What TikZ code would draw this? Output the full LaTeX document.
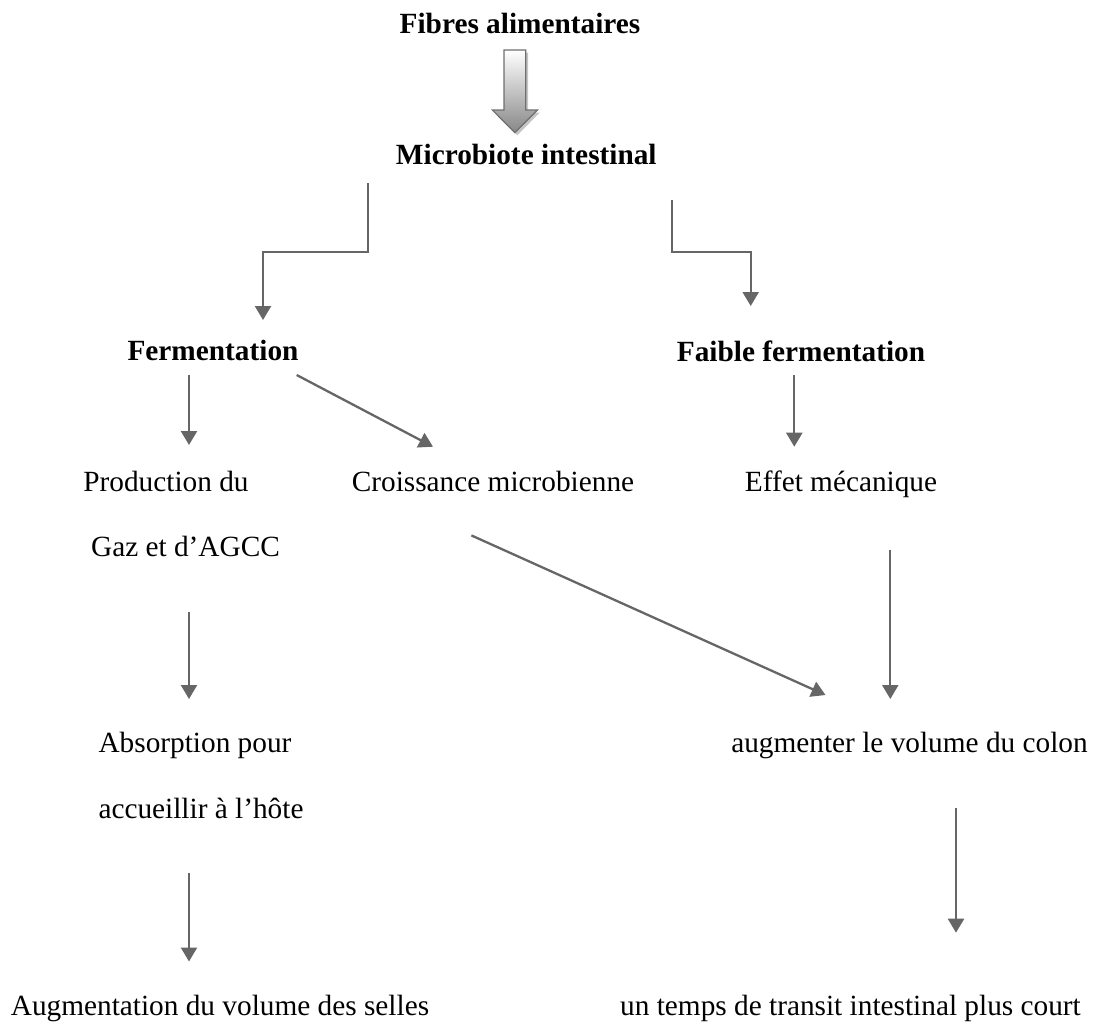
\documentclass[tikz,border=0pt]{standalone}
\usepackage{fontspec}
\setmainfont{Liberation Serif}
\usetikzlibrary{arrows.meta}
\definecolor{arrgray}{RGB}{102,102,102}
\definecolor{blockline}{RGB}{110,110,110}
\definecolor{blockbot}{RGB}{135,135,135}
\begin{document}
\begin{tikzpicture}[x=1pt,y=-1pt,
  lbl/.style={anchor=base, inner sep=0pt, font=\fontsize{29.3pt}{35pt}\selectfont},
  blbl/.style={anchor=base, inner sep=0pt, font=\fontsize{29.3pt}{35pt}\selectfont\bfseries},
  conn/.style={draw=arrgray, line width=2.3pt, -{Triangle[length=14pt,width=16pt]}}]
\useasboundingbox (0,0) rectangle (1093,1021);

% texts
\node[blbl] (fibres) at (520,33.3) {Fibres alimentaires};
\node[blbl] (micro) at (526.3,164.3) {Microbiote intestinal};
\node[blbl] (ferm) at (213,360.7) {Fermentation};
\node[blbl] (faible) at (801,361.7) {Faible fermentation};
\node[lbl] (prod) at (166,491.2) {Production du};
\node[lbl] (gaz) at (185.5,556.6) {Gaz et d’AGCC};
\node[lbl] (crois) at (493,491) {Croissance microbienne};
\node[lbl] (effet) at (841,491) {Effet mécanique};
\node[lbl] (abs) at (195,752.9) {Absorption pour};
\node[lbl] (acc) at (201,818.7) {accueillir à l’hôte};
\node[lbl] (augcol) at (909.5,752.8) {augmenter le volume du colon};
\node[lbl] (augsel) at (220,1015.3) {Augmentation du volume des selles};
\node[lbl] (temps) at (850.5,1015.5) {un temps de transit intestinal plus court};

% block arrow between fibres and micro
\fill[gray!45] (506.5,52.5) -- (528.2,52.5) -- (528.2,112.5) -- (539.9,112.5) -- (517.4,135.2) -- (494.9,112.5) -- (506.5,112.5) -- cycle;
\shade[top color=white, bottom color=blockbot, draw=blockline, line width=1.2pt]
  (504,50) -- (525.7,50) -- (525.7,110) -- (537.4,110) -- (514.9,132.7) -- (492.4,110) -- (504,110) -- cycle;

% connector end points
\coordinate (a1s) at (368,183);   \coordinate (a1m) at (368,252);   \coordinate (a1e) at (263,320);
\coordinate (a2s) at (671.7,200); \coordinate (a2m) at (671.7,251.7); \coordinate (a2e) at (750.7,306);
\coordinate (a3s) at (189,375);   \coordinate (a3e) at (189,445);
\coordinate (a4s) at (296.7,375); \coordinate (a4e) at (433,446.7);
\coordinate (a5s) at (794.3,375); \coordinate (a5e) at (794.3,446.7);
\coordinate (a6s) at (189,611.8); \coordinate (a6e) at (189,699);
\coordinate (a7s) at (471.4,535.4); \coordinate (a7e) at (825.5,695);
\coordinate (a8s) at (890.3,549.7); \coordinate (a8e) at (890.3,699);
\coordinate (a9s) at (189,872.6); \coordinate (a9e) at (189,961.5);
\coordinate (a10s) at (956,808);  \coordinate (a10e) at (956,932.7);

% connectors
\draw[conn] (a1s) -- (a1m) -| (a1e);
\draw[conn] (a2s) -- (a2m) -| (a2e);
\draw[conn] (a3s) -- (a3e);
\draw[conn] (a4s) -- (a4e);
\draw[conn] (a5s) -- (a5e);
\draw[conn] (a6s) -- (a6e);
\draw[conn] (a7s) -- (a7e);
\draw[conn] (a8s) -- (a8e);
\draw[conn] (a9s) -- (a9e);
\draw[conn] (a10s) -- (a10e);
\end{tikzpicture}
\end{document}
